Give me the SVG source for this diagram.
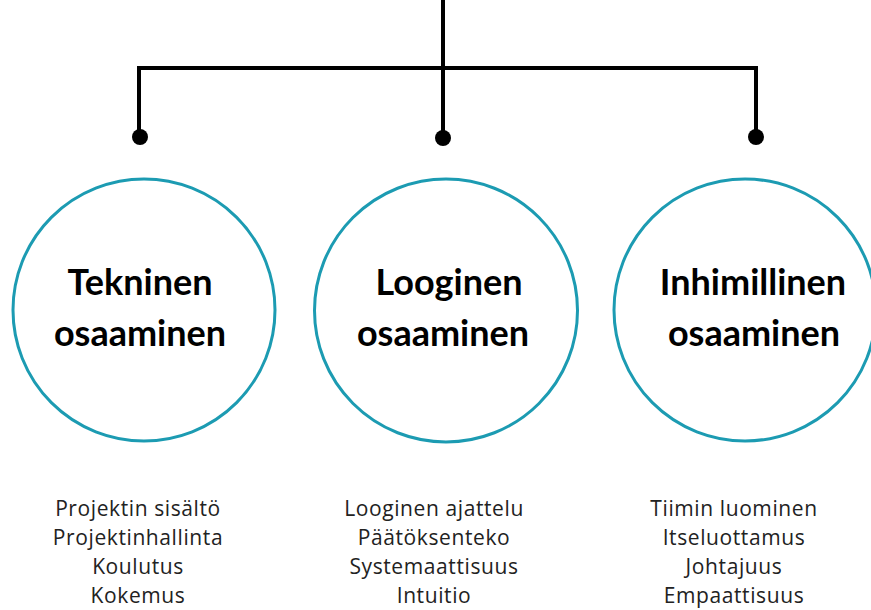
<svg xmlns="http://www.w3.org/2000/svg" width="871" height="610" viewBox="0 0 871 610">
<style>
.conn{stroke:#000;stroke-width:4;fill:none}
.dot{fill:#000}
.ring{fill:#fff;stroke:#1c9bb2;stroke-width:3}
.title{font-family:Lato,"Open Sans",sans-serif;font-weight:700;font-size:36px;fill:#000;text-anchor:middle}
.item{font-family:"Open Sans","Liberation Sans",sans-serif;font-size:21px;letter-spacing:0.6px;fill:#222;text-anchor:middle}
</style>
<rect width="871" height="610" fill="#fff"/>
<g id="connectors">
<path class="conn" d="M443 0V138M139 68H757M139 66V138M756 66V138"/>
<circle class="dot" cx="140" cy="137" r="8"/>
<circle class="dot" cx="443" cy="138" r="8"/>
<circle class="dot" cx="756" cy="137" r="8"/>
</g>
<g id="tekninen">
<circle class="ring" cx="144" cy="310" r="131"/>
<text class="title" x="140" y="295">Tekninen</text>
<text class="title" x="140" y="346">osaaminen</text>
<text class="item" x="138" y="516">Projektin sisältö</text>
<text class="item" x="138" y="545">Projektinhallinta</text>
<text class="item" x="138" y="574">Koulutus</text>
<text class="item" x="138" y="603">Kokemus</text>
</g>
<g id="looginen">
<circle class="ring" cx="446" cy="310.5" r="131.5"/>
<text class="title" x="449" y="295">Looginen</text>
<text class="title" x="443" y="346">osaaminen</text>
<text class="item" x="434" y="516">Looginen ajattelu</text>
<text class="item" x="434" y="545">Päätöksenteko</text>
<text class="item" x="434" y="574">Systemaattisuus</text>
<text class="item" x="434" y="603">Intuitio</text>
</g>
<g id="inhimillinen">
<circle class="ring" cx="745" cy="310" r="131"/>
<text class="title" x="753" y="295">Inhimillinen</text>
<text class="title" x="754" y="346">osaaminen</text>
<text class="item" x="734" y="516">Tiimin luominen</text>
<text class="item" x="734" y="545">Itseluottamus</text>
<text class="item" x="734" y="574">Johtajuus</text>
<text class="item" x="734" y="603">Empaattisuus</text>
</g>
</svg>
